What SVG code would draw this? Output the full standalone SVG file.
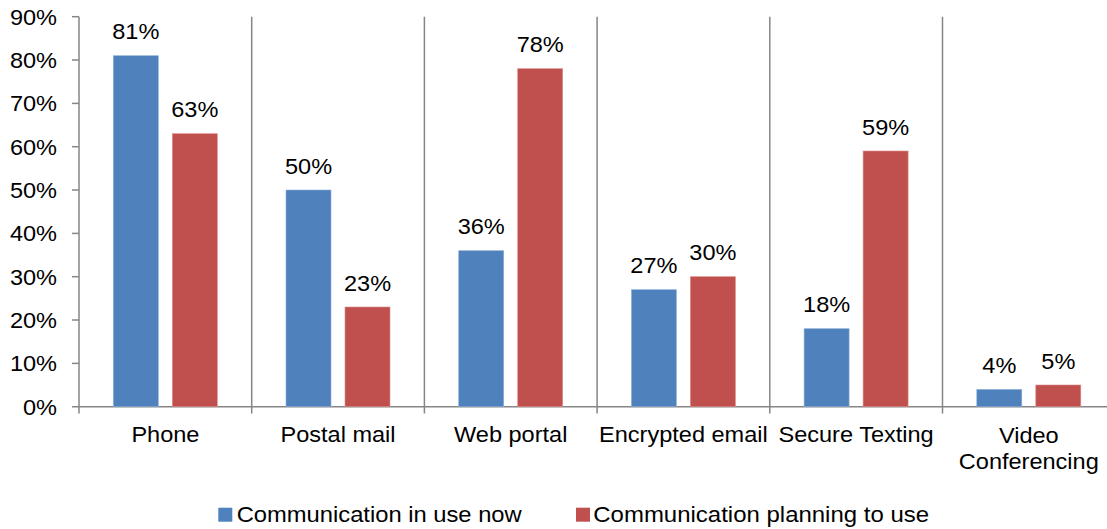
<svg xmlns="http://www.w3.org/2000/svg" width="1107" height="529" viewBox="0 0 1107 529">
<style>
  .ax { stroke: #868686; stroke-width: 1.5; fill: none; }
  .b { fill: #4F81BD; stroke: #8DB0DA; stroke-width: 0.6; }
  .r { fill: #C0504D; stroke: #DE8C8A; stroke-width: 0.6; }
  text { font-family: "Liberation Sans", Arial, sans-serif; font-size: 22px; fill: #000; }
  .m { text-anchor: middle; }
  .e { text-anchor: end; }
</style>
<rect width="1107" height="529" fill="#fff"/>
<g id="axes">
  <line class="ax" x1="79" y1="16.7" x2="79" y2="413.5"/>
  <line class="ax" x1="72" y1="406.7" x2="1107" y2="406.7"/>
  <line class="ax" x1="72" y1="16.7" x2="79" y2="16.7"/>
  <line class="ax" x1="72" y1="60" x2="79" y2="60"/>
  <line class="ax" x1="72" y1="103.4" x2="79" y2="103.4"/>
  <line class="ax" x1="72" y1="146.7" x2="79" y2="146.7"/>
  <line class="ax" x1="72" y1="190" x2="79" y2="190"/>
  <line class="ax" x1="72" y1="233.4" x2="79" y2="233.4"/>
  <line class="ax" x1="72" y1="276.7" x2="79" y2="276.7"/>
  <line class="ax" x1="72" y1="320" x2="79" y2="320"/>
  <line class="ax" x1="72" y1="363.4" x2="79" y2="363.4"/>
  <line class="ax" x1="251.7" y1="16.7" x2="251.7" y2="413.5"/>
  <line class="ax" x1="424.4" y1="16.7" x2="424.4" y2="413.5"/>
  <line class="ax" x1="597.1" y1="16.7" x2="597.1" y2="413.5"/>
  <line class="ax" x1="769.8" y1="16.7" x2="769.8" y2="413.5"/>
  <line class="ax" x1="942.5" y1="16.7" x2="942.5" y2="413.5"/>
</g>
<g id="ylabels">
  <text class="e" transform="translate(57,24.5) scale(1.07,1)">90%</text>
  <text class="e" transform="translate(57,67.8) scale(1.07,1)">80%</text>
  <text class="e" transform="translate(57,111.2) scale(1.07,1)">70%</text>
  <text class="e" transform="translate(57,154.5) scale(1.07,1)">60%</text>
  <text class="e" transform="translate(57,197.8) scale(1.07,1)">50%</text>
  <text class="e" transform="translate(57,241.2) scale(1.07,1)">40%</text>
  <text class="e" transform="translate(57,284.5) scale(1.07,1)">30%</text>
  <text class="e" transform="translate(57,327.8) scale(1.07,1)">20%</text>
  <text class="e" transform="translate(57,371.2) scale(1.07,1)">10%</text>
  <text class="e" transform="translate(57,414.5) scale(1.07,1)">0%</text>
</g>
<g id="phone">
  <rect class="b" x="113.3" y="55.7" width="45" height="351"/>
  <rect class="r" x="172.3" y="133.7" width="45" height="273"/>
  <text class="m" transform="translate(135.8,39.2) scale(1.07,1)">81%</text>
  <text class="m" transform="translate(194.8,117.2) scale(1.07,1)">63%</text>
  <text class="m" transform="translate(165.4,442) scale(1.07,1)">Phone</text>
</g>
<g id="postal-mail">
  <rect class="b" x="286" y="190" width="45" height="216.7"/>
  <rect class="r" x="345" y="307" width="45" height="99.7"/>
  <text class="m" transform="translate(308.5,173.5) scale(1.07,1)">50%</text>
  <text class="m" transform="translate(367.5,290.5) scale(1.07,1)">23%</text>
  <text class="m" transform="translate(338,442) scale(1.07,1)">Postal mail</text>
</g>
<g id="web-portal">
  <rect class="b" x="458.7" y="250.7" width="45" height="156"/>
  <rect class="r" x="517.7" y="68.7" width="45" height="338"/>
  <text class="m" transform="translate(481.2,234.2) scale(1.07,1)">36%</text>
  <text class="m" transform="translate(540.2,52.2) scale(1.07,1)">78%</text>
  <text class="m" transform="translate(510.7,442) scale(1.07,1)">Web portal</text>
</g>
<g id="encrypted-email">
  <rect class="b" x="631.4" y="289.7" width="45" height="117"/>
  <rect class="r" x="690.4" y="276.7" width="45" height="130"/>
  <text class="m" transform="translate(653.9,273.2) scale(1.07,1)">27%</text>
  <text class="m" transform="translate(712.9,260.2) scale(1.07,1)">30%</text>
  <text class="m" transform="translate(683.4,442) scale(1.07,1)">Encrypted email</text>
</g>
<g id="secure-texting">
  <rect class="b" x="804.1" y="328.7" width="45" height="78"/>
  <rect class="r" x="863.1" y="151" width="45" height="255.7"/>
  <text class="m" transform="translate(826.6,312.2) scale(1.07,1)">18%</text>
  <text class="m" transform="translate(885.6,134.5) scale(1.07,1)">59%</text>
  <text class="m" transform="translate(856.1,442) scale(1.07,1)">Secure Texting</text>
</g>
<g id="video-conferencing">
  <rect class="b" x="976.8" y="389.4" width="45" height="17.3"/>
  <rect class="r" x="1035.8" y="385" width="45" height="21.7"/>
  <text class="m" transform="translate(999.3,372.9) scale(1.07,1)">4%</text>
  <text class="m" transform="translate(1058.3,368.5) scale(1.07,1)">5%</text>
  <text class="m" transform="translate(1028.8,442.5) scale(1.07,1)">Video</text>
  <text class="m" transform="translate(1028.8,469.3) scale(1.07,1)">Conferencing</text>
</g>
<g id="legend">
  <rect x="218.3" y="507.7" width="14" height="14" fill="#4F81BD"/>
  <text transform="translate(236.7,522.3) scale(1.08,1)">Communication in use now</text>
  <rect x="576" y="507.7" width="14" height="14" fill="#C0504D"/>
  <text transform="translate(593.3,522.3) scale(1.09,1)">Communication planning to use</text>
</g>
</svg>
